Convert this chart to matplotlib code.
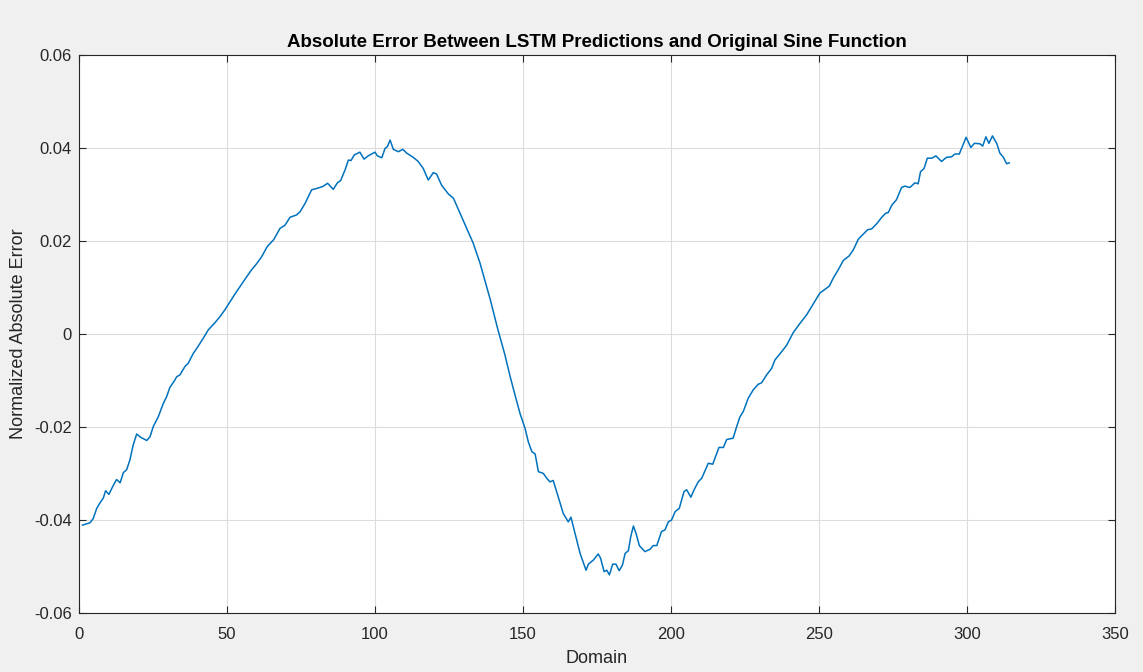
import matplotlib.pyplot as plt
import numpy as np

plt.rcParams['font.family'] = ['Liberation Sans', 'DejaVu Sans']

# Traced error curve (domain index, normalized absolute error)
domain = [
    1.2, 3.7, 4.8, 6.0, 7.1, 8.2, 9.0, 10.1, 11.4, 12.7, 13.9, 15.0, 16.1,
    17.2, 18.3, 19.5, 20.8, 22.9, 24.0, 25.1, 26.8, 28.5, 29.6, 30.7, 32.4,
    33.0, 34.1, 35.8, 36.9, 38.6, 40.3, 42.0, 43.7, 45.9, 47.6, 49.3, 51.0,
    52.7, 54.4, 56.1, 58.3, 60.0, 61.7, 63.6, 65.8, 67.9, 69.6, 71.3, 73.5,
    74.7, 76.4, 78.6, 80.3, 82.3, 84.0, 85.9, 87.3, 88.4, 89.9, 91.0, 91.9,
    93.0, 94.9, 96.3, 97.7, 100.0, 100.8, 102.3, 103.4, 104.2, 105.1, 106.2,
    107.9, 109.4, 110.7, 112.9, 114.6, 116.3, 118.0, 119.7, 120.8, 122.5,
    124.8, 126.5, 128.7, 131.0, 133.2, 135.5, 138.9, 141.5, 143.9, 145.6,
    147.3, 149.0, 150.7, 151.8, 153.0, 154.1, 155.2, 156.9, 158.0, 159.1,
    160.2, 161.9, 163.6, 165.3, 166.2, 167.6, 169.3, 171.3, 172.1, 173.8,
    175.4, 176.2, 177.4, 178.3, 179.2, 180.3, 181.4, 182.5, 183.6, 184.5,
    185.6, 186.4, 187.3, 188.2, 189.3, 191.2, 192.9, 194.0, 195.2, 196.8,
    198.0, 199.1, 200.2, 201.4, 202.8, 204.4, 205.3, 206.7, 207.8, 209.2,
    210.4, 212.6, 214.1, 216.2, 217.7, 218.8, 221.0, 222.2, 223.3, 224.4,
    226.1, 227.8, 229.5, 230.6, 232.3, 234.0, 235.1, 237.4, 239.1, 241.3,
    243.6, 245.8, 248.1, 250.3, 252.0, 253.5, 254.8, 256.5, 258.2, 260.2,
    261.6, 263.3, 265.0, 266.4, 267.8, 269.5, 271.2, 272.6, 273.4, 274.6,
    276.2, 277.9, 279.0, 280.7, 282.4, 283.5, 284.3, 285.5, 286.6, 288.1,
    289.5, 291.4, 293.1, 294.8, 295.9, 297.4, 299.7, 301.3, 302.5, 304.4,
    305.3, 306.4, 307.4, 308.6, 310.1, 311.1, 312.3, 313.4, 314.3,
]
abs_error = [
    -0.0411, -0.0406, -0.0397, -0.0375, -0.0363, -0.0353, -0.0337, -0.0345,
    -0.0328, -0.0313, -0.0320, -0.0298, -0.0292, -0.0271, -0.0239, -0.0215,
    -0.0222, -0.0229, -0.0221, -0.0199, -0.0178, -0.0149, -0.0135, -0.0115,
    -0.0099, -0.0092, -0.0088, -0.0070, -0.0063, -0.0042, -0.0026, -0.0009,
    0.0009, 0.0024, 0.0037, 0.0052, 0.0069, 0.0086, 0.0102, 0.0118, 0.0138,
    0.0151, 0.0166, 0.0188, 0.0203, 0.0227, 0.0234, 0.0251, 0.0256, 0.0263,
    0.0281, 0.0310, 0.0313, 0.0317, 0.0324, 0.0311, 0.0325, 0.0330, 0.0353,
    0.0374, 0.0373, 0.0385, 0.0391, 0.0376, 0.0383, 0.0391, 0.0383, 0.0379,
    0.0399, 0.0403, 0.0417, 0.0397, 0.0392, 0.0397, 0.0389, 0.0380, 0.0371,
    0.0356, 0.0331, 0.0347, 0.0344, 0.0320, 0.0301, 0.0292, 0.0260, 0.0227,
    0.0195, 0.0152, 0.0075, 0.0010, -0.0045, -0.0090, -0.0131, -0.0171,
    -0.0203, -0.0232, -0.0253, -0.0258, -0.0296, -0.0300, -0.0310, -0.0318,
    -0.0315, -0.0350, -0.0386, -0.0404, -0.0394, -0.0429, -0.0472, -0.0508,
    -0.0495, -0.0486, -0.0473, -0.0482, -0.0511, -0.0508, -0.0518, -0.0495,
    -0.0495, -0.0509, -0.0497, -0.0472, -0.0466, -0.0436, -0.0413, -0.0429,
    -0.0455, -0.0468, -0.0463, -0.0455, -0.0455, -0.0425, -0.0421, -0.0404,
    -0.0400, -0.0382, -0.0375, -0.0339, -0.0335, -0.0351, -0.0335, -0.0318,
    -0.0310, -0.0278, -0.0280, -0.0244, -0.0244, -0.0227, -0.0224, -0.0199,
    -0.0178, -0.0167, -0.0138, -0.0120, -0.0108, -0.0105, -0.0088, -0.0074,
    -0.0056, -0.0038, -0.0024, 0.0003, 0.0023, 0.0041, 0.0065, 0.0088,
    0.0096, 0.0103, 0.0120, 0.0138, 0.0158, 0.0168, 0.0181, 0.0204, 0.0215,
    0.0224, 0.0226, 0.0237, 0.0251, 0.0260, 0.0261, 0.0277, 0.0289, 0.0315,
    0.0318, 0.0315, 0.0325, 0.0323, 0.0349, 0.0356, 0.0378, 0.0378, 0.0383,
    0.0371, 0.0380, 0.0381, 0.0387, 0.0387, 0.0423, 0.0401, 0.0410, 0.0409,
    0.0404, 0.0424, 0.0410, 0.0426, 0.0409, 0.0389, 0.0380, 0.0366, 0.0368,
]

x_ticks = np.arange(0, 351, 50)
y_ticks = np.arange(-0.06, 0.061, 0.02)
y_tick_labels = ['-0.06', '-0.04', '-0.02', '0', '0.02', '0.04', '0.06']

fig = plt.figure(figsize=(11.43, 6.72), dpi=100, facecolor='#f0f0f0')
ax = fig.add_axes([0.0691, 0.0878, 0.9064, 0.8304])

ax.plot(domain, abs_error, color='#0072bd', linewidth=1.1)

# x-axis
ax.set_xlim(0, 350)
ax.set_xticks(x_ticks)
ax.set_xlabel('Domain', fontsize=13, color='#262626', labelpad=6)

# y-axis
ax.set_ylim(-0.06, 0.06)
ax.set_yticks(y_ticks)
ax.set_yticklabels(y_tick_labels)
ax.set_ylabel('Normalized Absolute Error', fontsize=13, color='#262626',
              labelpad=5)

ax.set_title('Absolute Error Between LSTM Predictions and Original Sine Function',
             fontsize=13.5, fontweight='bold', color='#000000', pad=6)

ax.grid(True, color='#dcdcdc', linewidth=0.8)
ax.set_axisbelow(True)
ax.tick_params(direction='in', top=True, right=True, length=5, width=0.8,
               colors='#262626', labelsize=12, pad=5)
ax.tick_params(axis='x', pad=10)
for spine in ax.spines.values():
    spine.set_color('#262626')
    spine.set_linewidth(0.8)

fig.savefig('out.png', dpi=100, facecolor=fig.get_facecolor())
